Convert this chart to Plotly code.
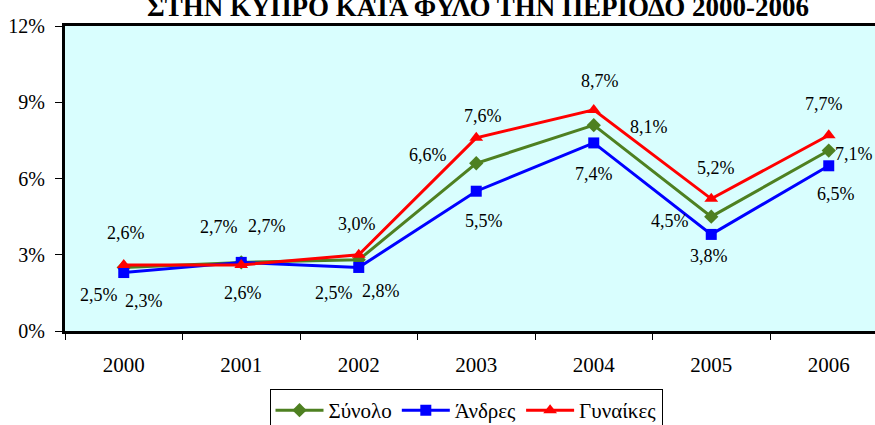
import plotly.graph_objects as go

years = ["2000", "2001", "2002", "2003", "2004", "2005", "2006"]
synolo = [2.5, 2.7, 2.8, 6.6, 8.1, 4.5, 7.1]
andres = [2.3, 2.7, 2.5, 5.5, 7.4, 3.8, 6.5]
gynaikes = [2.6, 2.6, 3.0, 7.6, 8.7, 5.2, 7.7]
y_ticks = [0, 3, 6, 9, 12]
y_tick_labels = ["0%", "3%", "6%", "9%", "12%"]

# label offsets in screen pixels (dx, dy downward) - style only
off_syn = [(-25, 28), (-22, -35), (22, 31), (-48, -8), (55, 2), (-41, 4), (25, 3)]
off_and = [(20, 28), (26, -36), (-25, 26), (8, 30), (0, 31), (-2, 22), (7, 28)]
off_gyn = [(2, -32), (2, 28), (-2, -31), (7, -22), (6, -29), (5, -31), (-5, -31)]

FONT = "Liberation Serif"
series = [
    ("Σύνολο", synolo, "#4E8021", "diamond", 11, off_syn),
    ("Άνδρες", andres, "#0000FF", "square", 11, off_and),
    ("Γυναίκες", gynaikes, "#FF0000", "triangle-up", 12, off_gyn),
]

fig = go.Figure()
annotations = []
for name, vals, color, sym, msize, offs in series:
    fig.add_trace(go.Scatter(
        x=list(range(len(years))), y=vals, name=name, mode="lines+markers",
        line=dict(color=color, width=3),
        marker=dict(symbol=sym, size=msize, color=color),
    ))
    for i, (yv, (dx, dy)) in enumerate(zip(vals, offs)):
        annotations.append(dict(
            x=i, y=yv, xref="x", yref="y",
            text=f"{yv:.1f}".replace(".", ",") + "%",
            showarrow=False, xshift=dx, yshift=-dy,
            font=dict(family=FONT, size=18, color="black"),
        ))

annotations.append(dict(
    x=(478 - 65) / 810, xref="paper", y=1, yref="paper",
    text="<b>ΣΤΗΝ ΚΥΠΡΟ ΚΑΤΑ ΦΥΛΟ ΤΗΝ ΠΕΡΙΟΔΟ 2000-2006</b>",
    showarrow=False, xanchor="center", yanchor="bottom", yshift=2,
    font=dict(family=FONT, size=27, color="black"),
))

fig.update_layout(
    width=875, height=425,
    margin=dict(l=65, r=0, t=26, b=94),
    paper_bgcolor="white",
    plot_bgcolor="#D9FEFE",
    font=dict(family=FONT, size=19, color="black"),
    showlegend=True,
    legend=dict(
        orientation="h", x=466 / 875, xref="container", xanchor="center",
        y=1 - 389 / 425, yref="container", yanchor="top",
        bordercolor="black", borderwidth=1, bgcolor="white",
        font=dict(family=FONT, size=21, color="black"),
        tracegroupgap=0, itemwidth=48,
    ),
    annotations=annotations,
)
fig.update_xaxes(
    tickmode="array", tickvals=list(range(len(years))), ticktext=years,
    range=[-0.5, -0.5 + 810 / 117.5],
    showline=True, linecolor="black", linewidth=3, mirror=True,
    ticks="", showgrid=False, zeroline=False, ticklabelstandoff=13,
    tickfont=dict(family=FONT, size=21, color="black"),
    minor=dict(tickmode="array", tickvals=[i - 0.5 for i in range(len(years) + 1)],
               ticks="outside", ticklen=6, tickcolor="black", tickwidth=1, showgrid=False),
)
fig.update_yaxes(
    range=[0, 12], tickvals=y_ticks, ticktext=y_tick_labels,
    showline=True, linecolor="black", linewidth=3, mirror=False,
    ticks="outside", ticklen=7, tickcolor="black", tickwidth=1,
    showgrid=False, zeroline=False, ticklabelstandoff=6,
    tickfont=dict(family=FONT, size=20, color="black"),
)

fig.write_html("out.html", config={"displayModeBar": False},
               post_script="document.body.style.margin='0';")
